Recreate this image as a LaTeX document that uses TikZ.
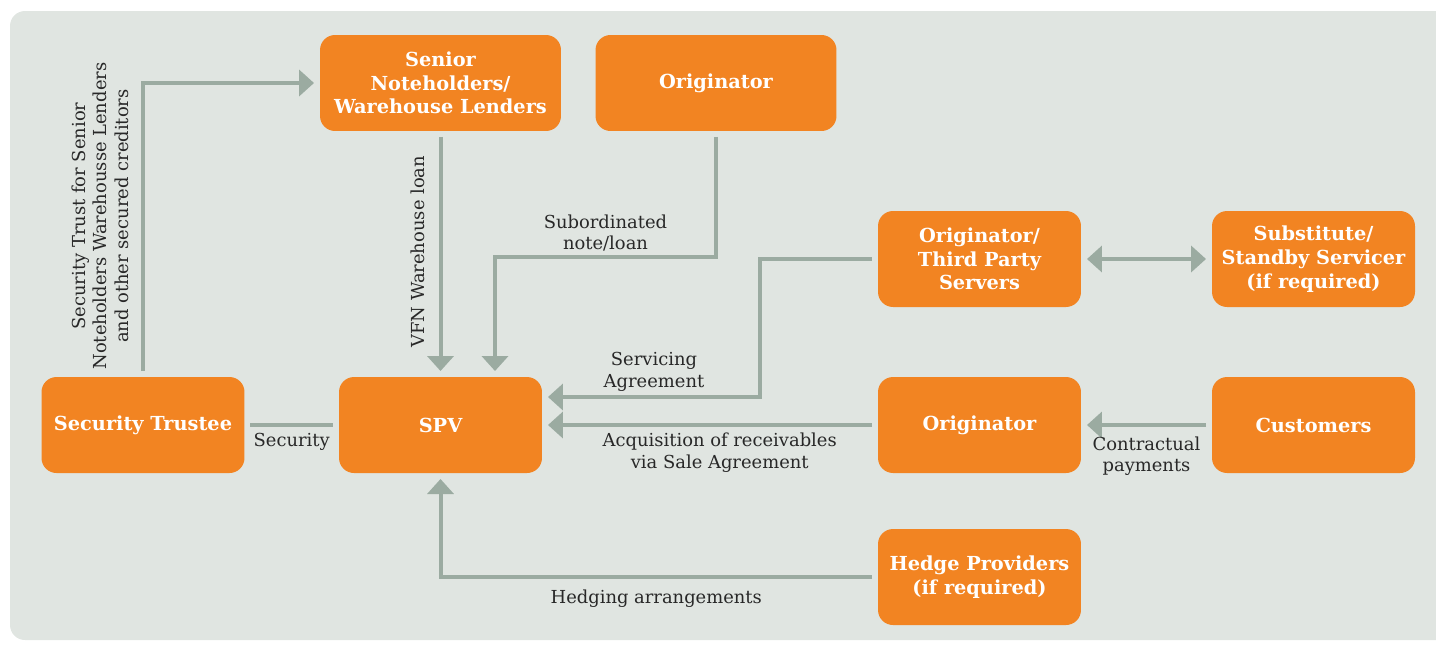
\documentclass[tikz,border=0pt]{standalone}
\usepackage{fontspec}
\setmainfont{DejaVu Serif}
\usetikzlibrary{arrows.meta,positioning}
\definecolor{boxorange}{RGB}{242,132,34}
\definecolor{panelgrey}{RGB}{224,229,225}
\definecolor{flowgrey}{RGB}{155,171,161}
\definecolor{labelink}{RGB}{40,40,40}
\tikzset{flowtip/.tip={Triangle[length=0.3cm,width=0.52cm]}}

\begin{document}
\begin{tikzpicture}[x=0.02cm,y=-0.02cm,
  party/.style={rectangle,rounded corners=0.3cm,fill=boxorange,text=white,font=\bfseries\fontsize{11}{13.5}\selectfont,align=center,minimum width=4.06cm,minimum height=1.92cm,outer sep=0.12cm},
  flow/.style={draw=flowgrey,line width=0.08cm,-flowtip},
  tag/.style={text=labelink,font=\fontsize{10.2}{12.3}\selectfont,align=center,inner sep=2pt}]
  \useasboundingbox (0,0) rectangle (1436,647);
  \fill[panelgrey,rounded corners=0.3cm] (10,11) rectangle (1470,640);

  \node[party,minimum width=4.82cm] (sn) at (440.5,83) {Senior\\Noteholders/\\Warehouse Lenders};
  \node[party,minimum width=4.82cm] (ot) at (716,83) {Originator};
  \node[party] (ots) at (979.5,259) {Originator/\\Third Party\\Servers};
  \node[party] (sub) at (1313.5,259) {Substitute/\\Standby Servicer\\(if required)};
  \node[party] (st) at (143,425) {Security Trustee};
  \node[party] (spv) at (440.5,425) {SPV};
  \node[party] (om) at (979.5,425) {Originator};
  \node[party] (cu) at (1313.5,425) {Customers};
  \node[party] (hp) at (979.5,577) {Hedge Providers\\(if required)};

  \coordinate (sbend) at (495,257);
  \coordinate (vbend) at (760,397);

  \draw[flow] (st) |- (sn) node[pos=0.255,rotate=90,anchor=south,yshift=0.18cm,xshift=0.16cm,tag] {Security Trust for Senior\\Noteholders Warehousse Lenders\\and other secured creditors};
  \draw[flow] (sn) -- (spv) node[pos=0.52,rotate=90,anchor=south,yshift=0.2cm,xshift=0.14cm,tag] {VFN Warehouse loan};
  \draw[flow] (ot) |- (sbend) node[pos=0.75,above,tag] {Subordinated\\note/loan} -- (sbend |- spv.north);
  \draw[flow] (ots) -| (vbend) -- (spv.east |- vbend) node[midway,above,tag] {Servicing\\Agreement};
  \draw[flow] (om) -- (spv) node[pos=0.47,below=0.05cm,tag] {Acquisition of receivables\\via Sale Agreement};
  \draw[flow] (cu) -- (om) node[midway,below=0.12cm,tag] {Contractual\\payments};
  \draw[flow,flowtip-flowtip] (ots) -- (sub);
  \draw[flow,-] (st) -- (spv) node[midway,below=0.05cm,tag] {Security};
  \draw[flow] (hp) -| (spv) node[pos=0.25,below=0.15cm,tag] {Hedging arrangements};
\end{tikzpicture}
\end{document}
